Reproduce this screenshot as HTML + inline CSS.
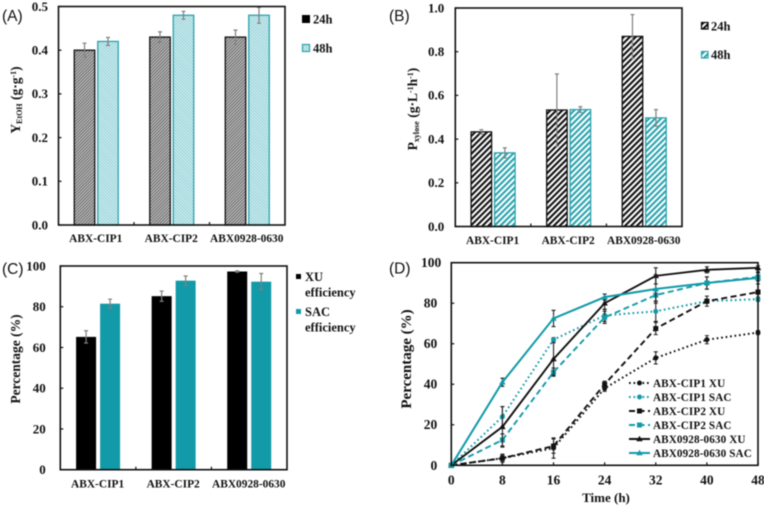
<!DOCTYPE html>
<html>
<head>
<meta charset="utf-8">
<style>
html,body{margin:0;padding:0;background:#fff;width:764px;height:507px;overflow:hidden}
svg{display:block;filter:blur(0.45px)}
text{font-family:"Liberation Serif",serif;font-weight:bold;fill:#111}
.sans{font-family:"Liberation Sans",sans-serif;font-weight:normal}
</style>
</head>
<body>
<svg id="fig" xmlns="http://www.w3.org/2000/svg" width="764" height="507" viewBox="0 0 764 507">
<defs>
<pattern id="hatch-a-black" patternUnits="userSpaceOnUse" width="2.2" height="2.2" patternTransform="rotate(45)"><rect width="2.2" height="2.2" fill="#c8c8c8"/><rect width="1.1" height="2.2" fill="#666"/></pattern>
<pattern id="hatch-a-teal" patternUnits="userSpaceOnUse" width="2.2" height="2.2" patternTransform="rotate(-45)"><rect width="2.2" height="2.2" fill="#dcf1f3"/><rect width="1.1" height="2.2" fill="#8fd0d6"/></pattern>
<pattern id="hatch-b-black" patternUnits="userSpaceOnUse" width="4.2" height="4.2" patternTransform="rotate(45)"><rect width="4.2" height="4.2" fill="#fff"/><rect width="2.1" height="4.2" fill="#111"/></pattern>
<pattern id="hatch-b-teal" patternUnits="userSpaceOnUse" width="4.2" height="4.2" patternTransform="rotate(45)"><rect width="4.2" height="4.2" fill="#fff"/><rect width="2.1" height="4.2" fill="#2aa3ae"/></pattern>
</defs>

<text class="sans" x="2" y="21" font-size="15.5">(A)</text>
<text class="sans" x="389" y="21" font-size="15.5">(B)</text>
<text class="sans" x="2" y="274" font-size="15.5">(C)</text>
<text class="sans" x="389" y="273.5" font-size="15.5">(D)</text>

<text transform="translate(20,100) rotate(-90)" text-anchor="middle" font-size="13.5">Y<tspan font-size="8" dy="2">EtOH</tspan><tspan dy="-2"> (g·g</tspan><tspan font-size="8" dy="-4">-1</tspan><tspan dy="4">)</tspan></text>
<text transform="translate(417,109) rotate(-90)" text-anchor="middle" font-size="13.5">P<tspan font-size="8" dy="2">xylose</tspan><tspan dy="-2"> (g·L</tspan><tspan font-size="8" dy="-4">-1</tspan><tspan dy="4">h</tspan><tspan font-size="8" dy="-4">-1</tspan><tspan dy="4">)</tspan></text>
<text transform="translate(20,359) rotate(-90)" text-anchor="middle" font-size="13.5">Percentage (%)</text>
<text transform="translate(411,359) rotate(-90)" text-anchor="middle" font-size="15">Percentage (%)</text>
<text x="606" y="502" text-anchor="middle" font-size="13">Time (h)</text>

<g>
<rect x="302.5" y="15.5" width="7" height="7" fill="#000" stroke="#000"/>
<text x="313" y="23.5" font-size="12.5">24h</text>
<rect x="302.5" y="44.5" width="7" height="7" fill="url(#hatch-a-teal)" stroke="#2aa3ae" stroke-width="1.2"/>
<text x="313" y="52.5" font-size="12.5">48h</text>
</g>
<g>
<rect x="701.5" y="22.5" width="6.5" height="6.5" fill="url(#hatch-b-black)" stroke="#000" stroke-width="1.2"/>
<text x="711" y="30.5" font-size="12.5">24h</text>
<rect x="701.5" y="51.5" width="6.5" height="6.5" fill="url(#hatch-b-teal)" stroke="#2aa3ae" stroke-width="1.2"/>
<text x="711" y="59" font-size="12.5">48h</text>
</g>
<g>
<rect x="296" y="274" width="5" height="5" fill="#000"/>
<text font-size="12.5"><tspan x="305" y="281">XU</tspan><tspan x="305" y="296.5">efficiency</tspan></text>
<rect x="296" y="309" width="5" height="5" fill="#129aa8"/>
<text font-size="12.5"><tspan x="305" y="316">SAC</tspan><tspan x="305" y="331.5">efficiency</tspan></text>
</g>
<g id="panel-a"></g>
<g id="panel-b"></g>
<g id="panel-c"></g>
<g id="panel-d"></g>
<g id="legend-d"></g>
</svg>
<script>
// Shared categories
const categories = ["ABX-CIP1", "ABX-CIP2", "ABX0928-0630"];

// Panel A
const aTicks = ["0.0", "0.1", "0.2", "0.3", "0.4", "0.5"];
const a24 = [0.40, 0.43, 0.43];
const a24Err = [0.016, 0.012, 0.016];
const a48 = [0.42, 0.48, 0.48];
const a48Err = [0.009, 0.009, 0.018];

// Panel B
const bTicks = ["0.0", "0.2", "0.4", "0.6", "0.8", "1.0"];
const b24 = [0.433, 0.533, 0.87];
const b24Err = [0.01, 0.165, 0.1];
const b48 = [0.337, 0.535, 0.497];
const b48Err = [0.023, 0.013, 0.038];

// Panel C
const cTicks = ["0", "20", "40", "60", "80", "100"];
const cXu = [65.2, 85.2, 97.3];
const cXuErr = [3, 2.5, 0.3];
const cSac = [81.5, 92.8, 92.3];
const cSacErr = [2.2, 2.3, 4];

// Panel D
const dHours = [0, 8, 16, 24, 32, 40, 48];
const dYTicks = ["0", "20", "40", "60", "80", "100"];
const cip1Xu = [0, 3.5, 8.5, 38, 53, 62, 65.5];
const cip1XuErr = [0, 2, 5, 1.5, 3, 2, 1];
const cip1Sac = [0, 24, 62, 74, 76, 81, 82];
const cip1SacErr = [0, 5, 1, 3, 5, 1, 1];
const cip2Xu = [0, 3.5, 9.5, 40, 67.5, 81, 85.5];
const cip2XuErr = [0, 1.5, 3.5, 1.5, 3, 2.5, 1];
const cip2Sac = [0, 12.5, 46, 73, 84, 90, 93];
const cip2SacErr = [0, 3, 2, 3, 3, 3, 2];
const abxXu = [0, 19, 52.5, 80, 93.5, 96.5, 97.5];
const abxXuErr = [0, 10, 8, 3, 4, 1.5, 1];
const abxSac = [0, 41, 72.5, 83, 87, 90, 92.5];
const abxSacErr = [0, 2, 4, 1.5, 7, 3, 3];

const TEAL = "#129aa8";
const NS = "http://www.w3.org/2000/svg";

function mk(tag, attrs, parent) {
  const e = document.createElementNS(NS, tag);
  for (const k in attrs) e.setAttribute(k, attrs[k]);
  parent.appendChild(e);
  return e;
}

function frame(parent, L, R, T, B, ticks, catCount, tickSize, fs, labelGap, topShift) {
  const yOf = i => B - (B - T) * i / (ticks.length - 1);
  ticks.forEach((t, i) => {
    const m = mk("line", {x1: L, x2: L + tickSize, y1: yOf(i), y2: yOf(i), stroke: "#111", "stroke-width": 1.2}, parent);
    
    
    const shift = i === ticks.length - 1 ? topShift : 0;
    const l = mk("text", {x: L - labelGap + shift, y: yOf(i) + fs * 0.33, "text-anchor": "end", "font-size": fs}, parent);
    
    
    l.textContent = t;
  });
  for (let i = 1; i < catCount; i++) {
    const x = L + (R - L) * i / catCount;
    const m = mk("line", {x1: x, x2: x, y1: B, y2: B - tickSize, stroke: "#111", "stroke-width": 1.2}, parent);
    
    
  }
}

function spine(parent, L, R, T, B) {
  const s = mk("rect", {x: L, y: T, width: R - L, height: B - T, fill: "none", stroke: "#111", "stroke-width": 1.6}, parent);
  
  
}

function barPanel(parent, box, ymax, ticks, s1, e1, s2, e2, st1, st2, labelY) {
  const {L, R, T, B, bw, gap, sw, tickGap} = box;
  const y = v => B - (B - T) * v / ymax;
  const catW = (R - L) / categories.length;
  frame(parent, L, R, T, B, ticks, categories.length, 3, 13, tickGap, 0);
  const drawBar = (x, v, err, st, name) => {
    const r = mk("rect", {x: x, y: y(v), width: bw, height: B - y(v), fill: st.fill, stroke: st.stroke, "stroke-width": sw}, parent);
    
    
    const g = mk("path", {d: `M${x + bw / 2 - 2} ${y(v + err)}h4M${x + bw / 2} ${y(v + err)}V${y(v - err)}M${x + bw / 2 - 2} ${y(v - err)}h4`, fill: "none", stroke: "#808080", "stroke-width": 1.2}, parent);
    
    
  };
  categories.forEach((c, i) => {
    const cx = L + catW * (i + 0.5);
    drawBar(cx - gap / 2 - bw, s1[i], e1[i], st1, 'bar-first-' + (i + 1));
    drawBar(cx + gap / 2, s2[i], e2[i], st2, 'bar-second-' + (i + 1));
    const l = mk("text", {x: cx - 0.5, y: labelY, "text-anchor": "middle", "font-size": 11.4}, parent);
    
    
    l.textContent = c;
  });
  spine(parent, L, R, T, B);
}

barPanel(document.getElementById("panel-a"), {L: 58.5, R: 285, T: 6.5, B: 225, bw: 20.5, gap: 3, sw: 1.3, tickGap: 10.5}, 0.5, aTicks, a24, a24Err, a48, a48Err,
  {fill: "url(#hatch-a-black)", stroke: "#111"}, {fill: "url(#hatch-a-teal)", stroke: "#2aa3ae"}, 242);
barPanel(document.getElementById("panel-b"), {L: 455.3, R: 682, T: 8, B: 226.5, bw: 20.5, gap: 3, sw: 1.3, tickGap: 11}, 1.0, bTicks, b24, b24Err, b48, b48Err,
  {fill: "url(#hatch-b-black)", stroke: "#111"}, {fill: "url(#hatch-b-teal)", stroke: "#2aa3ae"}, 244);
barPanel(document.getElementById("panel-c"), {L: 60.3, R: 287, T: 266, B: 469.7, bw: 20, gap: 4, sw: 0, tickGap: 14.5}, 100, cTicks, cXu, cXuErr, cSac, cSacErr,
  {fill: "#000", stroke: "none"}, {fill: TEAL, stroke: "none"}, 487.5);

// Panel D
const dSeries = [
  {name: "ABX-CIP1 XU", vals: cip1Xu, errs: cip1XuErr, color: "#111", dash: "1.7 2.8", marker: "circle", w: 2},
  {name: "ABX-CIP1 SAC", vals: cip1Sac, errs: cip1SacErr, color: TEAL, dash: "1.7 2.8", marker: "circle", w: 2},
  {name: "ABX-CIP2 XU", vals: cip2Xu, errs: cip2XuErr, color: "#111", dash: "6 3.5", marker: "square", w: 1.9},
  {name: "ABX-CIP2 SAC", vals: cip2Sac, errs: cip2SacErr, color: TEAL, dash: "6 3.5", marker: "square", w: 1.9},
  {name: "ABX0928-0630 XU", vals: abxXu, errs: abxXuErr, color: "#111", dash: "", marker: "triangle", w: 1.9},
  {name: "ABX0928-0630 SAC", vals: abxSac, errs: abxSacErr, color: TEAL, dash: "", marker: "triangle", w: 2}
];

function marker(parent, kind, x, y, color, name) {
  let e;
  if (kind === "circle") e = mk("circle", {cx: x, cy: y, r: 2.5, fill: color}, parent);
  else if (kind === "square") e = mk("rect", {x: x - 2.5, y: y - 2.5, width: 5, height: 5, fill: color}, parent);
  else e = mk("path", {d: `M${x} ${y - 3.2}L${x + 3.2} ${y + 2.3}H${x - 3.2}Z`, fill: color}, parent);
  
  
}

(function () {
  const p = document.getElementById("panel-d");
  const L = 451.3, R = 758, T = 262.7, B = 465.3;
  const xOf = h => L + (R - L) * h / 48;
  const yOf = v => B - (B - T) * v / 100;
  frame(p, L, R, T, B, dYTicks, 1, 3, 13.5, 14, 4);
  dHours.forEach(h => {
    const m = mk("line", {x1: xOf(h), x2: xOf(h), y1: B, y2: B - 3, stroke: "#111", "stroke-width": 1.2}, p);
    
    
    const l = mk("text", {x: xOf(h), y: 484.5, "text-anchor": "middle", "font-size": 13.5}, p);
    
    
    l.textContent = h;
  });
  dSeries.forEach(s => {
    const g = mk("g", {}, p);
    
    
    s.vals.forEach((v, i) => {
      if (!s.errs[i]) return;
      const x = xOf(dHours[i]);
      const eb = mk("path", {d: `M${x - 2} ${yOf(v + s.errs[i])}h4M${x} ${yOf(v + s.errs[i])}V${yOf(v - s.errs[i])}M${x - 2} ${yOf(v - s.errs[i])}h4`, fill: "none", stroke: "#222", "stroke-width": 1.1}, g);
      
      
    });
    const pts = s.vals.map((v, i) => xOf(dHours[i]) + "," + yOf(v)).join(" ");
    const line = mk("polyline", {points: pts, fill: "none", stroke: s.color, "stroke-width": s.w, "stroke-dasharray": s.dash}, g);
    
    
    s.vals.forEach((v, i) => marker(g, s.marker, xOf(dHours[i]), yOf(v), s.color, 'series-point'));
  });
  spine(p, L, R, T, B);

  const lg = document.getElementById("legend-d");
  const top = 383, step = 14;
  dSeries.forEach((s, i) => {
    const y = top + i * step;
    const l = mk("line", {x1: 629, x2: 650, y1: y, y2: y, stroke: s.color, "stroke-width": s.w, "stroke-dasharray": s.dash}, lg);
    
    
    marker(lg, s.marker, 639.5, y, s.color, 'legend-marker');
    const t = mk("text", {x: 653, y: y + 3.8, "font-size": 11.2, "letter-spacing": 0.1}, lg);
    
    
    t.textContent = s.name;
  });
})();
</script>
</body>
</html>
